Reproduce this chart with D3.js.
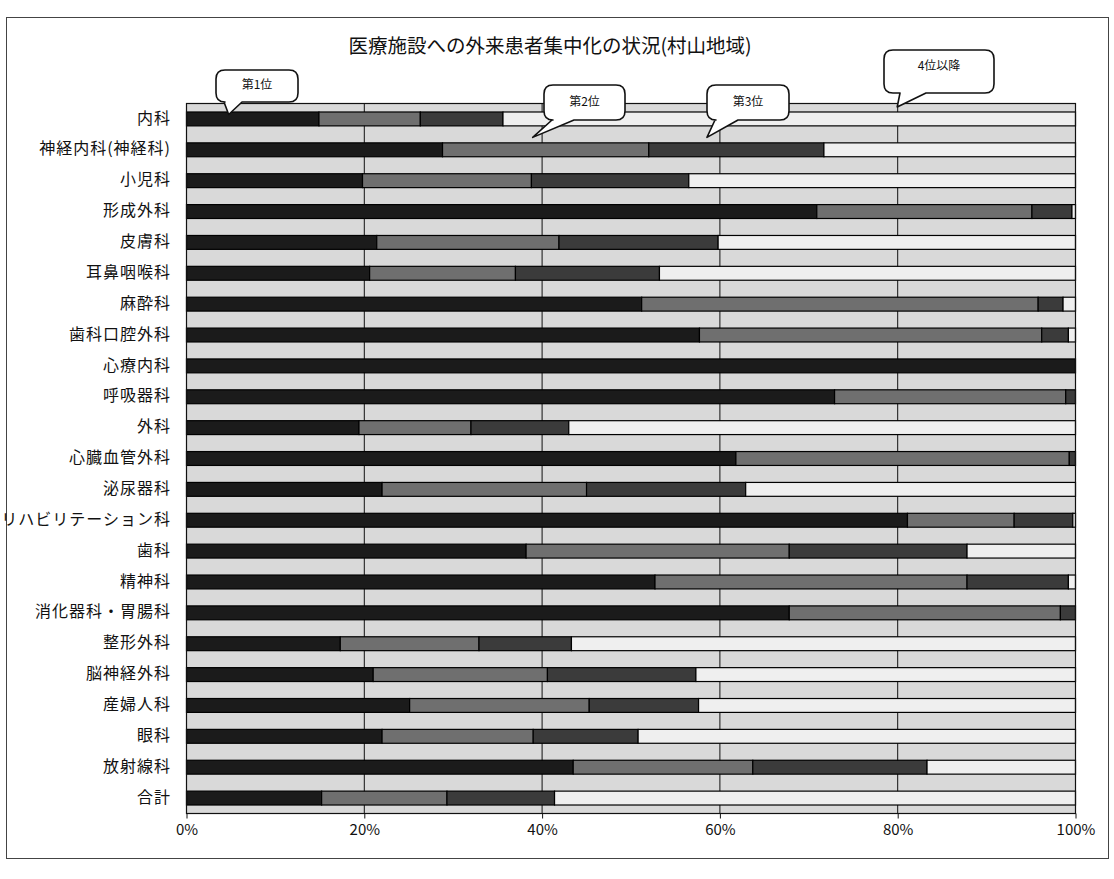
<!DOCTYPE html>
<html>
<head>
<meta charset="utf-8">
<script src="https://cdn.jsdelivr.net/npm/d3@7/dist/d3.min.js"></script>
<style>
  html, body { margin: 0; padding: 0; background: #ffffff; }
  text { font-family: "Noto Sans CJK JP", "Noto Sans", sans-serif; fill: #111; }
</style>
</head>
<body>
<svg id="chart" width="1114" height="879"></svg>
<script>
// Departments (top to bottom)
const categories = [
  "内科", "神経内科(神経科)", "小児科", "形成外科", "皮膚科", "耳鼻咽喉科",
  "麻酔科", "歯科口腔外科", "心療内科", "呼吸器科", "外科", "心臓血管外科",
  "泌尿器科", "リハビリテーション科", "歯科", "精神科", "消化器科・胃腸科",
  "整形外科", "脳神経外科", "産婦人科", "眼科", "放射線科", "合計"
];

// Share of outpatients (%) at the 1st, 2nd, 3rd and 4th-and-lower facilities
const rank1 = [14.9, 28.8, 19.8, 70.9, 21.4, 20.6, 51.2, 57.7, 100.0, 72.9, 19.4, 61.8,
               22.0, 81.1, 38.2, 52.7, 67.8, 17.3, 21.0, 25.1, 22.0, 43.5, 15.2];
const rank2 = [11.4, 23.2, 19.0, 24.2, 20.5, 16.4, 44.6, 38.5, 0.0, 26.0, 12.6, 37.5,
               23.0, 12.0, 29.6, 35.1, 30.5, 15.6, 19.6, 20.2, 17.0, 20.2, 14.1];
const rank3 = [9.3, 19.7, 17.7, 4.5, 17.9, 16.2, 2.8, 3.0, 0.0, 1.1, 11.0, 0.7,
               17.9, 6.6, 20.0, 11.4, 1.7, 10.4, 16.7, 12.3, 11.8, 19.6, 12.1];
const rankRest = [64.4, 28.3, 43.5, 0.4, 40.2, 46.8, 1.4, 0.8, 0.0, 0.0, 57.0, 0.0,
                  37.1, 0.3, 12.2, 0.8, 0.0, 56.7, 42.7, 42.4, 49.2, 16.7, 58.6];

const seriesKeys = ["第1位", "第2位", "第3位", "4位以降"];
const tickValues = [0, 20, 40, 60, 80, 100];
const tickLabels = ["0%", "20%", "40%", "60%", "80%", "100%"];
const titleText = "医療施設への外来患者集中化の状況(村山地域)";

// Table for the stack layout
const rows = categories.map((c, i) => ({
  name: c,
  "第1位": rank1[i], "第2位": rank2[i], "第3位": rank3[i], "4位以降": rankRest[i]
}));

const svg = d3.select("#chart");
const plot = { left: 186, right: 1075, top: 103, bottom: 813 };

const fills = {
  "第1位": "#1b1b1b",
  "第2位": "#6f6f6f",
  "第3位": "#3b3b3b",
  "4位以降": "#efefef"
};

const x = d3.scaleLinear().domain([0, 100]).range([plot.left, plot.right]);
const y = d3.scaleBand().domain(categories).range([plot.top, plot.bottom])
  .paddingInner(0.55).paddingOuter(0.275);

// Chart frame
svg.append("rect")
  .attr("x", 6.5).attr("y", 17.5).attr("width", 1102).attr("height", 841)
  .attr("fill", "#fff").attr("stroke", "#444").attr("stroke-width", 1);

// Title
svg.append("text")
  .attr("x", 550).attr("y", 48)
  .attr("text-anchor", "middle").attr("dominant-baseline", "middle")
  .attr("font-size", 19.5)
  .text(titleText);

// Plot area background
svg.append("rect")
  .attr("x", plot.left).attr("y", plot.top)
  .attr("width", plot.right - plot.left).attr("height", plot.bottom - plot.top)
  .attr("fill", "#d9d9d9");

// Vertical gridlines
svg.append("g")
  .selectAll("line")
  .data(tickValues.slice(1, -1))
  .join("line")
  .attr("x1", d => x(d) + 0.5).attr("x2", d => x(d) + 0.5)
  .attr("y1", plot.top).attr("y2", plot.bottom)
  .attr("stroke", "#111").attr("stroke-width", 1);

// Stacked bars
const stacked = d3.stack().keys(seriesKeys)(rows);
const barG = svg.append("g");
stacked.forEach(layer => {
  barG.append("g")
    .selectAll("rect")
    .data(layer.filter(d => d[1] - d[0] > 0))
    .join("rect")
    .attr("x", d => x(d[0]) + 0.5)
    .attr("y", d => y(d.data.name) + 0.5)
    .attr("width", d => Math.max(0, x(d[1]) - x(d[0])))
    .attr("height", y.bandwidth())
    .attr("fill", fills[layer.key])
    .attr("stroke", "#000").attr("stroke-width", 1.2);
});

// Plot border
svg.append("rect")
  .attr("x", plot.left + 0.5).attr("y", plot.top + 0.5)
  .attr("width", plot.right - plot.left).attr("height", plot.bottom - plot.top)
  .attr("fill", "none").attr("stroke", "#111").attr("stroke-width", 1.2);

// Bottom axis
const xAxis = d3.axisBottom(x)
  .tickValues(tickValues)
  .tickFormat((d, i) => tickLabels[i])
  .tickSize(5).tickPadding(6);
const xg = svg.append("g")
  .attr("transform", `translate(0.5,${plot.bottom + 0.5})`)
  .call(xAxis);
xg.select(".domain").remove();
xg.selectAll("line").attr("stroke", "#111");
xg.selectAll("text")
  .attr("font-size", 15)
  .attr("font-family", "\"Noto Sans CJK JP\", sans-serif")
  .attr("fill", "#111");

// Category axis labels
const yAxis = d3.axisLeft(y).tickSize(0).tickPadding(15);
const yg = svg.append("g")
  .attr("transform", `translate(${plot.left},0)`)
  .call(yAxis);
yg.select(".domain").remove();
yg.selectAll("text")
  .attr("font-size", 16)
  .attr("letter-spacing", 1)
  .attr("font-family", "\"Noto Sans CJK JP\", sans-serif")
  .attr("fill", "#111");

// Callout balloons naming each series
function balloonPath(bx, by, w, h, r, base1, base2, tipX, tipY) {
  return `M${bx + r},${by} H${bx + w - r} Q${bx + w},${by} ${bx + w},${by + r}` +
    ` V${by + h - r} Q${bx + w},${by + h} ${bx + w - r},${by + h}` +
    ` H${base2} L${tipX},${tipY} L${base1},${by + h}` +
    ` H${bx + r} Q${bx},${by + h} ${bx},${by + h - r}` +
    ` V${by + r} Q${bx},${by} ${bx + r},${by} Z`;
}

const firstBand = y(categories[0]);
const callouts = [
  { label: "第1位",   bx: 216, by: 70, w: 82,  h: 32, b1: 224, b2: 242, tip: [x(4.8),  firstBand + 3] },
  { label: "第2位",   bx: 544, by: 85, w: 81,  h: 35, b1: 552, b2: 574, tip: [x(39.0), firstBand + y.bandwidth() + 12] },
  { label: "第3位",   bx: 707, by: 85, w: 82,  h: 35, b1: 715, b2: 738, tip: [x(58.6), firstBand + y.bandwidth() + 12] },
  { label: "4位以降", bx: 884, by: 50, w: 110, h: 43, b1: 900, b2: 926, tip: [x(80.0), plot.top + 4] }
];

const cg = svg.append("g");
callouts.forEach(c => {
  cg.append("path")
    .attr("d", balloonPath(c.bx, c.by, c.w, c.h, 9, c.b1, c.b2, c.tip[0], c.tip[1]))
    .attr("fill", "#fff").attr("stroke", "#111").attr("stroke-width", 1.6)
    .attr("stroke-linejoin", "round");
  cg.append("text")
    .attr("x", c.bx + c.w / 2).attr("y", c.by + c.h / 2 - (c.h > 40 ? 5 : 0))
    .attr("text-anchor", "middle").attr("dominant-baseline", "middle")
    .attr("font-size", 12)
    .text(c.label);
});
</script>
</body>
</html>
